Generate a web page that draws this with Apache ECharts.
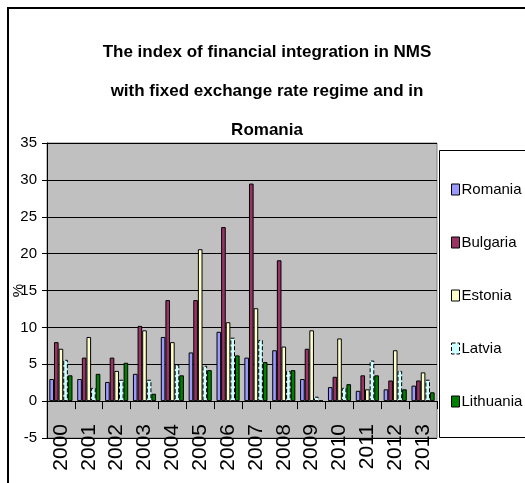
<!DOCTYPE html>
<html>
<head>
<meta charset="utf-8">
<script src="https://cdn.jsdelivr.net/npm/echarts@6/dist/echarts.min.js"></script>
<style>
html,body{margin:0;padding:0;background:#fff;}
#chart{width:525px;height:483px;}
</style>
</head>
<body>
<div id="chart"></div>
<script>
var years = ['2000','2001','2002','2003','2004','2005','2006','2007','2008','2009','2010','2011','2012','2013'];
var romania   = [3.0, 3.0, 2.6, 3.7, 8.7, 6.6, 9.4, 5.9, 6.9, 3.0, 1.9, 1.4, 1.6, 2.1];
var bulgaria  = [8.0, 5.9, 5.9, 10.2, 13.7, 13.7, 23.6, 29.5, 19.1, 7.1, 3.3, 3.5, 2.8, 2.8];
var estonia   = [7.1, 8.7, 4.1, 9.6, 8.0, 20.6, 10.7, 12.6, 7.4, 9.6, 8.5, 1.6, 6.9, 3.9];
var latvia    = [5.6, 1.8, 2.9, 2.9, 4.9, 4.8, 8.6, 8.3, 4.1, 0.6, 1.8, 5.5, 4.1, 2.9];
var lithuania = [3.5, 3.7, 5.2, 1.0, 3.5, 4.2, 6.2, 5.3, 4.2, 0.1, 2.3, 3.5, 1.6, 1.2];
var seriesNames = ['Romania','Bulgaria','Estonia','Latvia','Lithuania'];
var seriesColors = ['#9999FF','#993366','#FFFFCC','#CCFFFF','#008000'];
var yTicks = {min:-5, max:35, interval:5};

var FONT = '"Liberation Sans", Arial, sans-serif';
var chart = echarts.init(document.getElementById('chart'), null, {renderer:'canvas'});
var dataSets = [romania, bulgaria, estonia, latvia, lithuania];
var series = dataSets.map(function(d, i){
  return {
    name: seriesNames[i],
    type: 'bar',
    data: d,
    barGap: '0%',
    barCategoryGap: '17%',
    itemStyle: {
      color: seriesColors[i],
      borderColor: '#000',
      borderWidth: 1,
      borderType: i === 3 ? 'dashed' : 'solid'
    },
    emphasis: {disabled: true},
    animation: false
  };
});

chart.setOption({
  animation: false,
  backgroundColor: '#fff',
  title: {
    text: 'The index of financial integration in NMS\nwith fixed exchange rate regime and in\nRomania',
    left: 262,
    top: 28,
    textAlign: 'center',
    textStyle: {
      fontFamily: FONT,
      fontWeight: 'bold',
      fontSize: 17,
      lineHeight: 39,
      color: '#000'
    }
  },
  legend: {
    orient: 'vertical',
    left: 446,
    top: 177,
    itemWidth: 8,
    itemHeight: 11,
    itemGap: 38,
    icon: 'rect',
    data: seriesNames.map(function(n, i){
      return {name: n, itemStyle: {borderColor: '#000', borderWidth: 1, borderType: i === 3 ? 'dashed' : 'solid'}};
    }),
    textStyle: {fontFamily: FONT, fontSize: 15, color: '#000', padding: [0,0,0,-3]}
  },
  grid: {
    left: 47, top: 143, right: 88, bottom: 45,
    outerBoundsMode: 'none',
    containLabel: false,
    show: true,
    backgroundColor: '#C0C0C0',
    borderColor: '#808080',
    borderWidth: 1
  },
  xAxis: {
    type: 'category',
    data: years,
    axisLine: {onZero: true, lineStyle: {color: '#000', width: 1}},
    axisTick: {show: true, alignWithLabel: false, length: 8, lineStyle: {color: '#000'}},
    axisLabel: {
      rotate: 90,
      margin: -14,
      interval: 0,
      fontFamily: FONT,
      fontSize: 21,
      color: '#000'
    }
  },
  yAxis: {
    type: 'value',
    min: yTicks.min,
    max: yTicks.max,
    interval: yTicks.interval,
    name: '%',
    nameLocation: 'middle',
    nameGap: 21,
    nameRotate: 90,
    nameMoveOverlap: false,
    nameTextStyle: {fontFamily: FONT, fontSize: 15, color: '#000'},
    axisLine: {show: true, lineStyle: {color: '#000'}},
    axisTick: {show: true, length: 5, lineStyle: {color: '#000'}},
    axisLabel: {fontFamily: FONT, fontSize: 15, color: '#000', margin: 10},
    splitLine: {show: true, lineStyle: {color: '#000', width: 1}}
  },
  graphic: [
    {type: 'polyline', silent: true, z: 100,
     shape: {points: [[8, 483], [8, 8], [525, 8]]},
     style: {stroke: '#000', lineWidth: 2, fill: null}},
    {type: 'rect', silent: true, z: 0,
     shape: {x: 439.5, y: 150.5, width: 100, height: 287},
     style: {stroke: '#000', lineWidth: 1, fill: '#fff'}}
  ],
  series: series
});
</script>
</body>
</html>
